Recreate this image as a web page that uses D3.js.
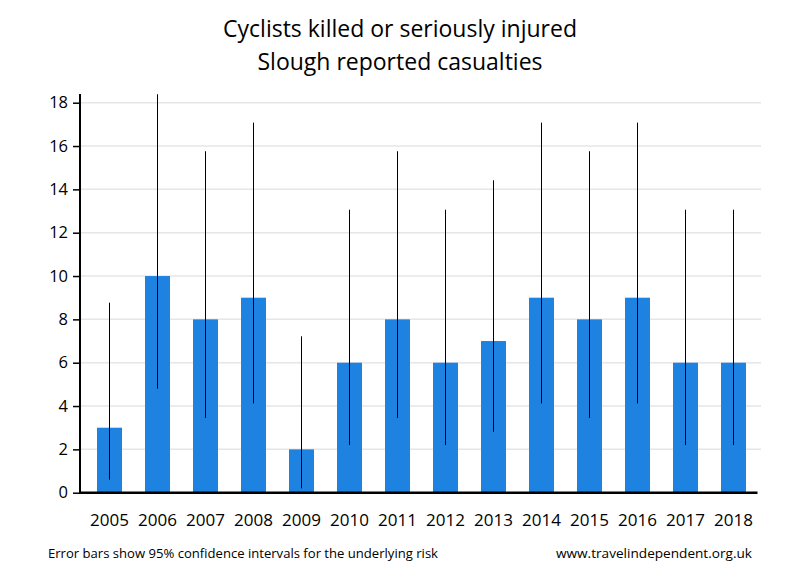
<!DOCTYPE html>
<html><head><meta charset="utf-8">
<script src="https://cdn.jsdelivr.net/npm/d3@7"></script>
<style>body{margin:0;background:#fff}svg{display:block}</style>
</head><body>
<svg id="c" width="800" height="580"></svg>
<script>
const years = ["2005","2006","2007","2008","2009","2010","2011","2012","2013","2014","2015","2016","2017","2018"];
const casualties = [3,10,8,9,2,6,8,6,7,9,8,9,6,6];
const ciLow  = [0.6,4.8,3.45,4.12,0.2,2.2,3.45,2.2,2.81,4.12,3.45,4.12,2.2,2.2];
const ciHigh = [8.77,18.39,15.76,17.08,7.22,13.06,15.76,13.06,14.42,17.08,15.76,17.08,13.06,13.06];
const yTicks = [0,2,4,6,8,10,12,14,16,18];
const titleLines = ["Cyclists killed or seriously injured","Slough reported casualties"];
const footLeft = "Error bars show 95% confidence intervals for the underlying risk";
const footRight = "www.travelindependent.org.uk";

const svg = d3.select("#c");
const x = d3.scaleBand().domain(years).range([85.5,757.5]).paddingInner(0.48).paddingOuter(0.24);
const y = d3.scaleLinear().domain([0,18]).range([492.7,102.7]);
const font = "'Open Sans', 'DejaVu Sans', sans-serif";

// gridlines
svg.append("g").selectAll("line").data(yTicks.filter(d=>d>0)).join("line")
  .attr("x1",80).attr("x2",761).attr("y1",d=>y(d)).attr("y2",d=>y(d))
  .attr("stroke","#e6e6e6").attr("stroke-width",1.5);

// bars
svg.append("g").selectAll("rect").data(years).join("rect")
  .attr("x",d=>x(d)).attr("width",x.bandwidth())
  .attr("y",(d,i)=>y(casualties[i])).attr("height",(d,i)=>y(0)-y(casualties[i]))
  .attr("fill","#1e82e0");

// error bars
svg.append("g").selectAll("line").data(years).join("line")
  .attr("x1",d=>x(d)+x.bandwidth()/2).attr("x2",d=>x(d)+x.bandwidth()/2)
  .attr("y1",(d,i)=>y(ciLow[i])).attr("y2",(d,i)=>y(ciHigh[i]))
  .attr("stroke","#000").attr("stroke-width",1);

// y axis
const yAxis = svg.append("g").attr("transform","translate(80,0)")
  .call(d3.axisLeft(y).tickValues(yTicks).tickSize(7).tickPadding(5));
yAxis.select(".domain").attr("d","M0,"+(y(0))+"V94").attr("stroke-width",2);
yAxis.selectAll(".tick line").attr("stroke-width",1.5);
yAxis.selectAll("text").attr("font-family",font).attr("font-size",16.5).attr("fill","#000");

// x axis
const xAxis = svg.append("g").attr("transform","translate(0,"+y(0)+")")
  .call(d3.axisBottom(x).tickSize(0).tickPadding(21));
xAxis.select(".domain").attr("d","M79,0H757.5").attr("stroke-width",2.5);
xAxis.selectAll("text").attr("font-family",font).attr("font-size",17).attr("fill","#000");

// title
svg.append("g").selectAll("text").data(titleLines).join("text")
  .attr("x",400).attr("y",(d,i)=>37+i*33).attr("text-anchor","middle")
  .attr("font-family",font).attr("font-size",23).attr("fill","#000").text(d=>d);

// footer
svg.append("text").attr("x",48).attr("y",558).attr("font-family",font).attr("font-size",13)
  .attr("textLength",390).attr("lengthAdjust","spacingAndGlyphs").text(footLeft);
svg.append("text").attr("x",556).attr("y",558).attr("font-family",font).attr("font-size",13)
  .attr("textLength",196).attr("lengthAdjust","spacingAndGlyphs").text(footRight);
</script>
</body></html>
